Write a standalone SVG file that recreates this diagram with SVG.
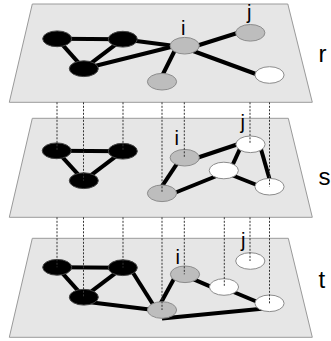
<svg xmlns="http://www.w3.org/2000/svg" width="331" height="341" viewBox="0 0 331 341">
<style>
.plane{fill:#e6e6e6;stroke:#9a9a9a;stroke-width:1}
.edge{stroke:#000;stroke-width:4;stroke-linecap:butt;fill:none}
.proj{stroke:#333;stroke-width:1;stroke-dasharray:2 1.5;fill:none}
.blk{fill:#000;stroke:#444;stroke-width:1}
.gry{fill:#bdbdbd;stroke:#8c8c8c;stroke-width:1}
.wht{fill:#fff;stroke:#8c8c8c;stroke-width:1}
.lbl{font-family:"Liberation Sans",Arial,sans-serif;font-size:20px;fill:#000}
.lyr{font-family:"Liberation Sans",Arial,sans-serif;font-size:24px;fill:#000}
</style>
<rect width="331" height="341" fill="#fff"/>
<g id="planes">
<polygon class="plane" points="32.3,4 287.8,4 312.3,102.3 9.3,102.3"/>
<polygon class="plane" points="32.3,118.3 288.3,118.3 312.3,217.3 9.3,217.3"/>
<polygon class="plane" points="32.3,238.3 288.3,238.3 312.3,337.3 9.3,337.3"/>
</g>
<g id="connectors">
<!-- layer r -->
<line class="edge" x1="57.2" y1="38.8" x2="122.8" y2="39.2"/>
<line class="edge" x1="57.2" y1="38.8" x2="83.8" y2="68.7"/>
<line class="edge" x1="122.8" y1="39.2" x2="83.8" y2="68.7"/>
<line class="edge" x1="122.8" y1="39.2" x2="175" y2="46"/>
<line class="edge" x1="83.8" y1="68.7" x2="175" y2="46"/>
<line class="edge" x1="185" y1="49.5" x2="250" y2="29"/>
<line class="edge" x1="185" y1="48" x2="269.5" y2="79"/>
<line class="edge" x1="177" y1="46" x2="159" y2="82"/>
<!-- layer s -->
<line class="edge" x1="56.7" y1="150.8" x2="122.8" y2="151.2"/>
<line class="edge" x1="56.7" y1="150.8" x2="83.8" y2="180.7"/>
<line class="edge" x1="122.8" y1="151.2" x2="83.8" y2="180.7"/>
<line class="edge" x1="181" y1="157.7" x2="157.3" y2="193.3"/>
<line class="edge" x1="184.7" y1="162" x2="250.5" y2="140"/>
<line class="edge" x1="162" y1="198" x2="224" y2="173"/>
<line class="edge" x1="242" y1="144.3" x2="230" y2="170.5"/>
<line class="edge" x1="259.6" y1="144.3" x2="271.7" y2="186.7"/>
<line class="edge" x1="224" y1="172" x2="269.5" y2="190"/>
<!-- layer t -->
<line class="edge" x1="57.2" y1="267.3" x2="122.8" y2="267.7"/>
<line class="edge" x1="57.2" y1="267.3" x2="83.8" y2="297.2"/>
<line class="edge" x1="122.8" y1="267.7" x2="83.8" y2="297.2"/>
<line class="edge" x1="130" y1="268" x2="156.5" y2="310"/>
<line class="edge" x1="84" y1="301.4" x2="162" y2="311"/>
<line class="edge" x1="176.4" y1="274.3" x2="157" y2="310"/>
<line class="edge" x1="185" y1="275.7" x2="224" y2="292.4"/>
<line class="edge" x1="224" y1="288" x2="269.5" y2="307"/>
<line class="edge" x1="162" y1="318.4" x2="269.5" y2="307.9"/>
</g>
<g id="nodes-r">
<g id="r-a"><ellipse class="blk" cx="57.2" cy="38.8" rx="14.5" ry="7.9"/></g>
<g id="r-b"><ellipse class="blk" cx="122.8" cy="39.2" rx="14.5" ry="7.9"/></g>
<g id="r-c"><ellipse class="blk" cx="83.8" cy="68.7" rx="14.5" ry="7.9"/></g>
<g id="r-i"><ellipse class="gry" cx="184.7" cy="45.7" rx="14.6" ry="8.3"/><text class="lbl" x="181.1" y="35">i</text></g>
<g id="r-j"><ellipse class="gry" cx="250.3" cy="32.8" rx="14.6" ry="8.3"/><text class="lbl" x="247.1" y="18.5">j</text></g>
<g id="r-d"><ellipse class="gry" cx="162" cy="81.7" rx="14.6" ry="8.3"/></g>
<g id="r-e"><ellipse class="wht" cx="269.5" cy="75" rx="14.6" ry="8.3"/></g>
</g>
<g id="nodes-s">
<g id="s-a"><ellipse class="blk" cx="56.7" cy="150.8" rx="14.5" ry="7.9"/></g>
<g id="s-b"><ellipse class="blk" cx="122.8" cy="151.2" rx="14.5" ry="7.9"/></g>
<g id="s-c"><ellipse class="blk" cx="83.8" cy="180.7" rx="14.5" ry="7.9"/></g>
<g id="s-i"><ellipse class="gry" cx="184.7" cy="157.7" rx="14.6" ry="8.3"/><text class="lbl" x="174.5" y="145">i</text></g>
<g id="s-j"><ellipse class="wht" cx="250.5" cy="144.3" rx="14.6" ry="8.3"/><text class="lbl" x="240.5" y="128.5">j</text></g>
<g id="s-d"><ellipse class="gry" cx="162" cy="193.3" rx="14.6" ry="8.3"/></g>
<g id="s-m"><ellipse class="wht" cx="223.8" cy="170.5" rx="14.6" ry="8.3"/></g>
<g id="s-e"><ellipse class="wht" cx="269.5" cy="186.7" rx="14.6" ry="8.3"/></g>
</g>
<g id="nodes-t">
<g id="t-a"><ellipse class="blk" cx="57.2" cy="267.3" rx="14.5" ry="7.9"/></g>
<g id="t-b"><ellipse class="blk" cx="122.8" cy="267.7" rx="14.5" ry="7.9"/></g>
<g id="t-c"><ellipse class="blk" cx="83.8" cy="297.2" rx="14.5" ry="7.9"/></g>
<g id="t-i"><ellipse class="gry" cx="185" cy="274.3" rx="14.6" ry="8.3"/><text class="lbl" x="175.5" y="264">i</text></g>
<g id="t-j"><ellipse class="wht" cx="250.3" cy="261" rx="14.6" ry="8.3"/><text class="lbl" x="241" y="246.5">j</text></g>
<g id="t-d"><ellipse class="gry" cx="162" cy="310" rx="14.6" ry="8.3"/></g>
<g id="t-m"><ellipse class="wht" cx="224" cy="287" rx="14.6" ry="8.3"/></g>
<g id="t-e"><ellipse class="wht" cx="269.5" cy="303.3" rx="14.6" ry="8.3"/></g>
</g>
<g id="projections">
<line class="proj" x1="57" y1="102.3" x2="57" y2="150.8"/>
<line class="proj" x1="83.5" y1="102.3" x2="83.5" y2="180.7"/>
<line class="proj" x1="123" y1="102.3" x2="123" y2="151.2"/>
<line class="proj" x1="162" y1="102.3" x2="162" y2="193.3"/>
<line class="proj" x1="184.3" y1="102.3" x2="184.3" y2="157.7"/>
<line class="proj" x1="250" y1="102.3" x2="250" y2="144.3"/>
<line class="proj" x1="269.5" y1="102.3" x2="269.5" y2="186.7"/>
<line class="proj" x1="57" y1="217.3" x2="57" y2="267.3"/>
<line class="proj" x1="83.5" y1="217.3" x2="83.5" y2="297.2"/>
<line class="proj" x1="123" y1="217.3" x2="123" y2="267.7"/>
<line class="proj" x1="162" y1="217.3" x2="162" y2="310"/>
<line class="proj" x1="184.3" y1="217.3" x2="184.3" y2="274.3"/>
<line class="proj" x1="224.3" y1="217.3" x2="224.3" y2="287"/>
<line class="proj" x1="250" y1="217.3" x2="250" y2="261"/>
<line class="proj" x1="269.5" y1="217.3" x2="269.5" y2="303.3"/>
</g>
<g id="layer-labels">
<text class="lyr" x="318.5" y="61.5">r</text>
<text class="lyr" x="318.5" y="185">s</text>
<text class="lyr" x="318.5" y="288">t</text>
</g>
</svg>
